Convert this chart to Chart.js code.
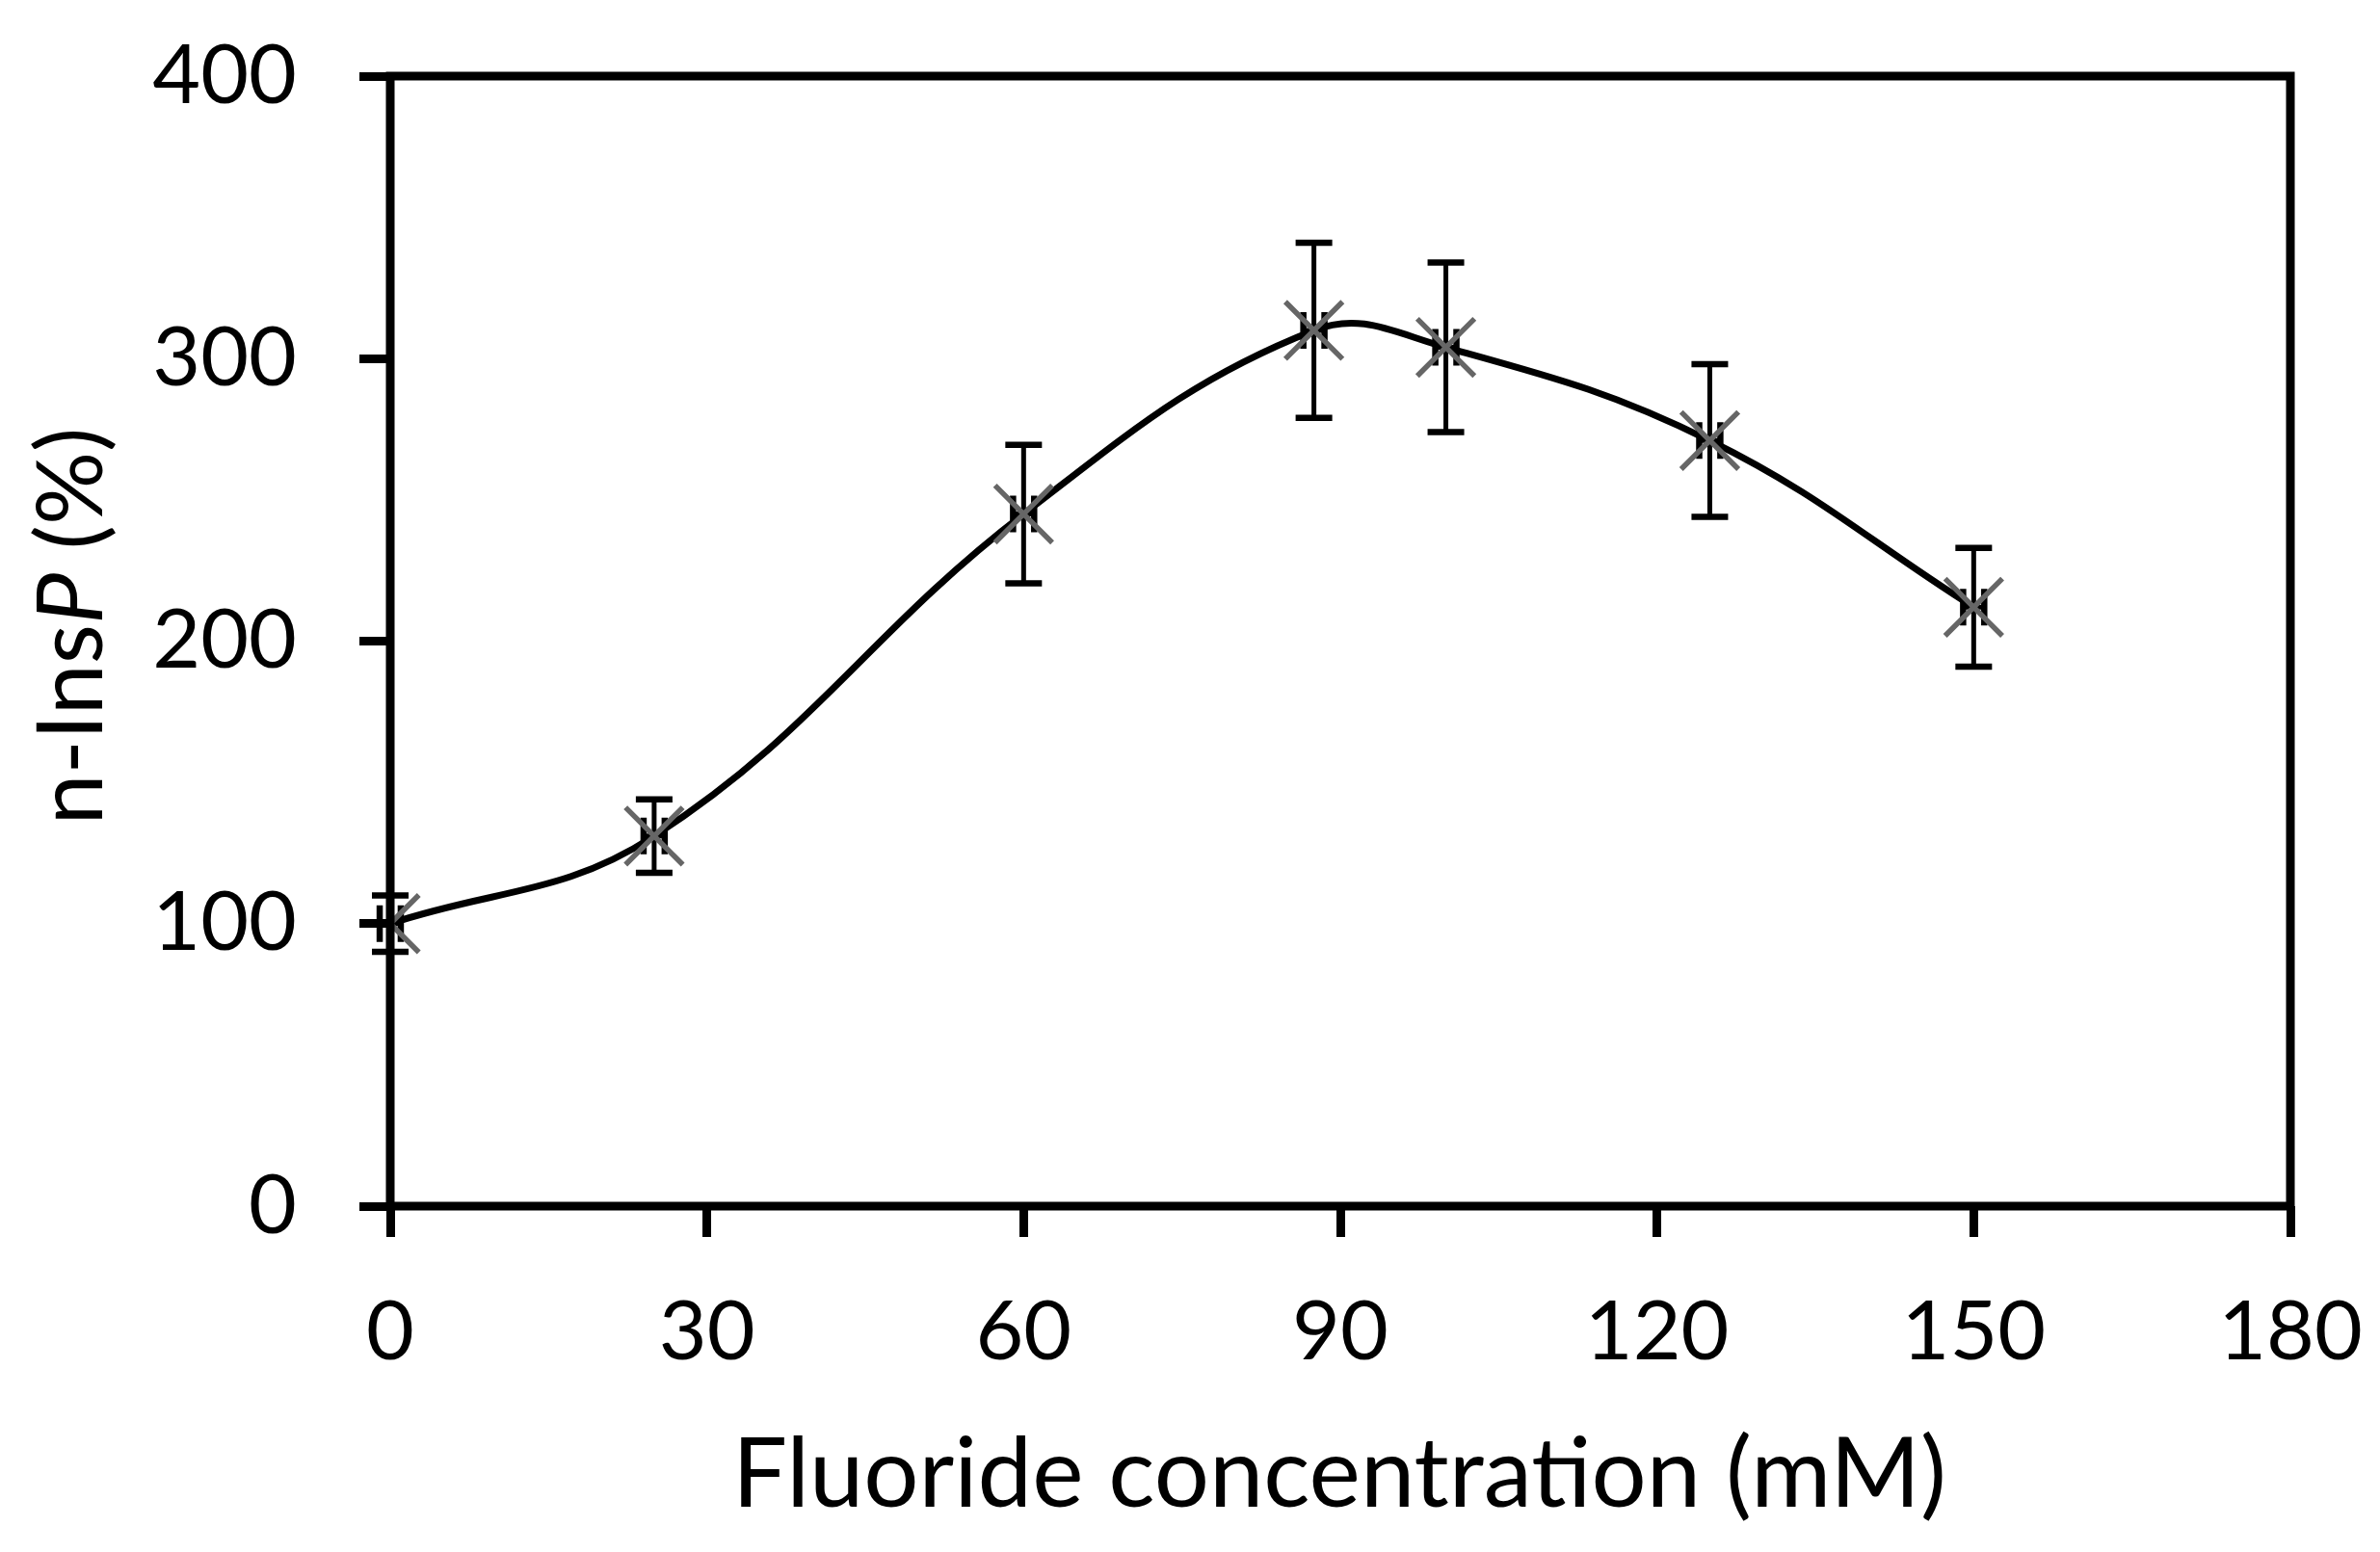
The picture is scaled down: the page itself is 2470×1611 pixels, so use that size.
<!DOCTYPE html>
<html>
<head>
<meta charset="utf-8">
<script src="https://cdn.jsdelivr.net/npm/chart.js@4.4.1/dist/chart.umd.min.js"></script>
<style>
  html, body { margin: 0; padding: 0; background: #fff; }
  #wrap { width: 2470px; height: 1611px; }
</style>
</head>
<body>
<div id="wrap"><canvas id="fluoride-chart" width="2470" height="1611"></canvas></div>
<script>
// Data
var concentrations = [0, 25, 60, 87.5, 100, 125, 150];
var insPValues     = [100, 131, 245, 310, 304, 271, 212];
var insPErrors     = [10, 13, 24.5, 31, 30, 27, 21];
var concErrors     = [1, 1, 1, 1, 1, 1, 1];
var xTickValues    = [0, 30, 60, 90, 120, 150, 180];
var yTickValues    = [0, 100, 200, 300, 400];

var FONT = "Lato, 'Open Sans', sans-serif";

// error bars (vertical + small horizontal)
var errorBars = {
    id: 'errorBars',
    beforeDatasetsDraw: function(chart) {
        var ctx = chart.ctx, xs = chart.scales.x, ys = chart.scales.y;
        var cap = 19;
        ctx.save();
        ctx.strokeStyle = '#000';
        for (var i = 0; i < concentrations.length; i++) {
            var px = xs.getPixelForValue(concentrations[i]);
            var py = ys.getPixelForValue(insPValues[i]);
            var top = ys.getPixelForValue(insPValues[i] + insPErrors[i]);
            var bot = ys.getPixelForValue(insPValues[i] - insPErrors[i]);
            var lft = xs.getPixelForValue(concentrations[i] - concErrors[i]);
            var rgt = xs.getPixelForValue(concentrations[i] + concErrors[i]);
            ctx.lineWidth = 5;
            ctx.beginPath();
            ctx.moveTo(px, top); ctx.lineTo(px, bot);
            ctx.moveTo(lft, py); ctx.lineTo(rgt, py);
            ctx.stroke();
            ctx.lineWidth = 6.5;
            ctx.beginPath();
            ctx.moveTo(px - cap, top); ctx.lineTo(px + cap, top);
            ctx.moveTo(px - cap, bot); ctx.lineTo(px + cap, bot);
            ctx.moveTo(lft, py - cap); ctx.lineTo(lft, py + cap);
            ctx.moveTo(rgt, py - cap); ctx.lineTo(rgt, py + cap);
            ctx.stroke();
        }
        ctx.restore();
    }
};

// frame box and axis titles
var frameAndTitles = {
    id: 'frameAndTitles',
    afterDraw: function(chart) {
        var ctx = chart.ctx, a = chart.chartArea;
        ctx.save();
        ctx.strokeStyle = '#000';
        ctx.lineWidth = 9;
        ctx.strokeRect(a.left, a.top, a.right - a.left, a.bottom - a.top);

        // x title
        ctx.fillStyle = '#000';
        ctx.font = "101px " + FONT;
        ctx.textAlign = 'center';
        ctx.textBaseline = 'alphabetic';
        ctx.fillText('Fluoride concentration (mM)', 1390, 1564);

        // y title with italic P
        var parts = [
            { t: 'n-Ins', f: "95px " + FONT },
            { t: 'P', f: "italic 95px " + FONT },
            { t: ' (%)', f: "95px " + FONT }
        ];
        var total = 0;
        parts.forEach(function(p) { ctx.font = p.f; p.w = ctx.measureText(p.t).width; total += p.w; });
        ctx.translate(106, 650);
        ctx.rotate(-Math.PI / 2);
        ctx.textAlign = 'left';
        var xx = -total / 2;
        parts.forEach(function(p) { ctx.font = p.f; ctx.fillText(p.t, xx, 0); xx += p.w; });
        ctx.restore();
    }
};

var chartData = {
    datasets: [{
        label: 'n-InsP',
        data: concentrations.map(function(c, i) { return { x: c, y: insPValues[i] }; }),
        showLine: true,
        tension: 0.4,
        borderColor: '#000',
        borderWidth: 7,
        pointStyle: 'crossRot',
        pointRadius: 42,
        pointBorderWidth: 5.5,
        pointBorderColor: '#666666',
        pointBackgroundColor: '#666666'
    }]
};

var chartOptions = {
    responsive: false,
    animation: false,
    layout: { padding: { top: 79, right: 93, left: 0, bottom: 0 } },
    plugins: { legend: { display: false }, tooltip: { enabled: false } },
    scales: {
        x: {
            type: 'linear',
            min: 0, max: 180,
            afterBuildTicks: function(s) { s.ticks = xTickValues.map(function(v) { return { value: v }; }); },
            afterFit: function(s) { s.height = 359; s.paddingLeft = 0; s.paddingRight = 0; },
            border: { display: false },
            grid: { drawOnChartArea: false, drawTicks: true, tickLength: 32, lineWidth: 9, color: '#000' },
            ticks: { color: '#000', padding: 48, maxRotation: 0, font: { family: FONT, size: 86 } }
        },
        y: {
            type: 'linear',
            min: 0, max: 400,
            afterBuildTicks: function(s) { s.ticks = yTickValues.map(function(v) { return { value: v }; }); },
            afterFit: function(s) { s.width = 405; s.paddingTop = 0; s.paddingBottom = 0; },
            border: { display: false },
            grid: { drawOnChartArea: false, drawTicks: true, tickLength: 32, lineWidth: 9, color: '#000' },
            ticks: { color: '#000', padding: 65, font: { family: FONT, size: 86 } }
        }
    }
};

var ctx = document.getElementById('fluoride-chart');
var fluorideChart = new Chart(ctx, {
    type: 'scatter',
    data: chartData,
    options: chartOptions,
    plugins: [errorBars, frameAndTitles]
});
</script>
</body>
</html>
